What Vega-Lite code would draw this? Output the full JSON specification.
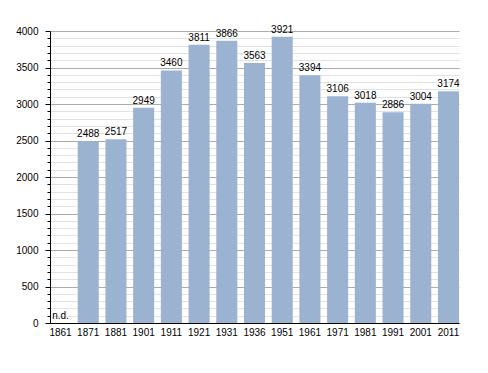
{
  "$schema": "https://vega.github.io/schema/vega-lite/v6.json",
  "autosize": "none",
  "width": 409,
  "height": 292,
  "padding": {"left": 50, "top": 31, "right": 29, "bottom": 50},
  "background": "white",
  "config": {"view": {"stroke": null}, "font": "Liberation Sans"},
  "data": {"values": [
    {"year": "1861", "pop": null, "label": "n.d."},
    {"year": "1871", "pop": 2488, "label": "2488"},
    {"year": "1881", "pop": 2517, "label": "2517"},
    {"year": "1901", "pop": 2949, "label": "2949"},
    {"year": "1911", "pop": 3460, "label": "3460"},
    {"year": "1921", "pop": 3811, "label": "3811"},
    {"year": "1931", "pop": 3866, "label": "3866"},
    {"year": "1936", "pop": 3563, "label": "3563"},
    {"year": "1951", "pop": 3921, "label": "3921"},
    {"year": "1961", "pop": 3394, "label": "3394"},
    {"year": "1971", "pop": 3106, "label": "3106"},
    {"year": "1981", "pop": 3018, "label": "3018"},
    {"year": "1991", "pop": 2886, "label": "2886"},
    {"year": "2001", "pop": 3004, "label": "3004"},
    {"year": "2011", "pop": 3174, "label": "3174"}
  ]},
  "encoding": {
    "x": {"field": "year", "type": "nominal", "sort": null,
      "scale": {"domain": ["1861","1871","1881","1901","1911","1921","1931","1936","1951","1961","1971","1981","1991","2001","2011"], "paddingInner": 0.24, "paddingOuter": 0, "align": 0},
      "axis": {"title": null, "labelAngle": 0, "ticks": false, "domainColor": "#000", "domainWidth": 1, "labelFontSize": 10, "labelColor": "#000", "labelPadding": 4, "grid": false, "zindex": 1}
    }
  },
  "layer": [
    {
      "mark": {"type": "bar", "color": "#9bb3d1"},
      "encoding": {
        "y": {"field": "pop", "type": "quantitative", "scale": {"domain": [0, 4000], "nice": false},
          "axis": {"title": null,
            "values": [0,100,200,300,400,500,600,700,800,900,1000,1100,1200,1300,1400,1500,1600,1700,1800,1900,2000,2100,2200,2300,2400,2500,2600,2700,2800,2900,3000,3100,3200,3300,3400,3500,3600,3700,3800,3900,4000],
            "labelExpr": "datum.value % 500 === 0 ? '' + datum.value : ''",
            "labelOverlap": false,
            "labelFontSize": 10, "labelColor": "#000", "labelPadding": 7,
            "grid": true,
            "gridColor": {"condition": {"test": "datum.value % 500 === 0", "value": "#ababab"}, "value": "#e2e2e2"},
            "tickSize": {"condition": {"test": "datum.value % 500 === 0", "value": 5}, "value": 3},
            "tickColor": "#000", "domainColor": "#000", "zindex": 0}
        }
      }
    },
    {
      "mark": {"type": "text", "baseline": "bottom", "dy": -2, "fontSize": 10, "color": "#000"},
      "encoding": {
        "y": {"field": "pop", "type": "quantitative", "scale": {"domain": [0, 4000], "nice": false},
          "axis": {"title": null,
            "values": [0,100,200,300,400,500,600,700,800,900,1000,1100,1200,1300,1400,1500,1600,1700,1800,1900,2000,2100,2200,2300,2400,2500,2600,2700,2800,2900,3000,3100,3200,3300,3400,3500,3600,3700,3800,3900,4000],
            "labelExpr": "datum.value % 500 === 0 ? '' + datum.value : ''",
            "labelOverlap": false,
            "labelFontSize": 10, "labelColor": "#000", "labelPadding": 7,
            "grid": true,
            "gridColor": {"condition": {"test": "datum.value % 500 === 0", "value": "#ababab"}, "value": "#e2e2e2"},
            "tickSize": {"condition": {"test": "datum.value % 500 === 0", "value": 5}, "value": 3},
            "tickColor": "#000", "domainColor": "#000", "zindex": 0}
        },
        "text": {"field": "label"}
      }
    },
    {
      "transform": [{"filter": "datum.label === 'n.d.'"}],
      "mark": {"type": "text", "baseline": "bottom", "dy": -2, "fontSize": 10, "color": "#000"},
      "encoding": {
        "y": {"datum": 0, "type": "quantitative",
          "axis": {"title": null,
            "values": [0,100,200,300,400,500,600,700,800,900,1000,1100,1200,1300,1400,1500,1600,1700,1800,1900,2000,2100,2200,2300,2400,2500,2600,2700,2800,2900,3000,3100,3200,3300,3400,3500,3600,3700,3800,3900,4000],
            "labelExpr": "datum.value % 500 === 0 ? '' + datum.value : ''",
            "labelOverlap": false,
            "labelFontSize": 10, "labelColor": "#000", "labelPadding": 7,
            "grid": true,
            "gridColor": {"condition": {"test": "datum.value % 500 === 0", "value": "#ababab"}, "value": "#e2e2e2"},
            "tickSize": {"condition": {"test": "datum.value % 500 === 0", "value": 5}, "value": 3},
            "tickColor": "#000", "domainColor": "#000", "zindex": 0}
        },
        "text": {"field": "label"}
      }
    }
  ]
}
